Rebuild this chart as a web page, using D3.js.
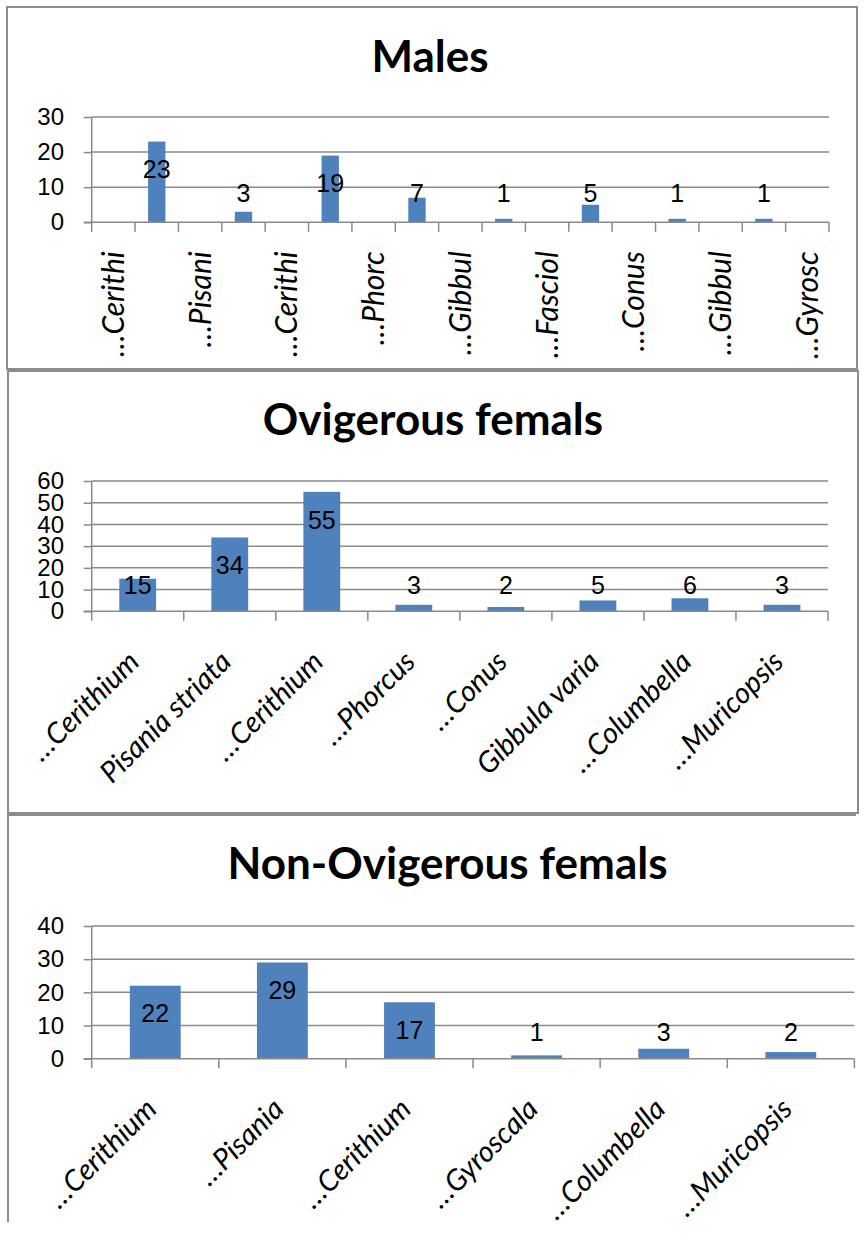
<!DOCTYPE html>
<html>
<head>
<meta charset="utf-8">
<script src="https://cdn.jsdelivr.net/npm/d3@7"></script>
<style>
  body { margin: 0; background: #fff; }
  svg { display: block; }
</style>
</head>
<body>
<svg id="chart" width="865" height="1237"></svg>
<script>
// ---- Males: 17 categories, only every second name is printed on the axis
const maleTickLabels = ["…Cerithi", "", "…Pisani", "", "…Cerithi", "", "…Phorc", "", "…Gibbul",
                        "", "…Fasciol", "", "…Conus", "", "…Gibbul", "", "…Gyrosc"];
const maleValues = [null, 23, null, 3, null, 19, null, 7, null, 1, null, 5, null, 1, null, 1, null];
const maleTicks = [0, 10, 20, 30];

// ---- Ovigerous females
const ovigCategories = ["…Cerithium", "Pisania striata", "…Cerithium", "…Phorcus", "…Conus",
                        "Gibbula varia", "…Columbella", "…Muricopsis"];
const ovigValues = [15, 34, 55, 3, 2, 5, 6, 3];
const ovigTicks = [0, 10, 20, 30, 40, 50, 60];

// ---- Non-ovigerous females
const nonOvigCategories = ["…Cerithium", "…Pisania", "…Cerithium", "…Gyroscala", "…Columbella", "…Muricopsis"];
const nonOvigValues = [22, 29, 17, 1, 3, 2];
const nonOvigTicks = [0, 10, 20, 30, 40];

const BAR = "#4F81BD";
const GRID = "#8a8a8a";
const FRAME = "#8c8c8c";

const svg = d3.select("#chart");
svg.append("rect").attr("width", 865).attr("height", 1237).attr("fill", "#fff");

// panel frames
const frames = svg.append("g").attr("fill", "none").attr("stroke", FRAME).attr("stroke-width", 2);
frames.append("rect").attr("x", 7).attr("y", 7).attr("width", 850).attr("height", 362);
frames.append("rect").attr("x", 8).attr("y", 371).attr("width", 850).attr("height", 442);
frames.append("path").attr("d", "M8,1222V815H856");

const panels = [
  { title: "Males", labels: maleTickLabels, values: maleValues, ticks: maleTicks,
    titleX: 430, titleY: 71.7, left: 91.7, right: 829, top: 117, zero: 222.3,
    rotate: -90, lift: 29 },
  { title: "Ovigerous femals", labels: ovigCategories, values: ovigValues, ticks: ovigTicks,
    titleX: 433, titleY: 435, left: 91.7, right: 828, top: 481, zero: 611.3,
    rotate: -45, lift: 26 },
  { title: "Non-Ovigerous femals", labels: nonOvigCategories, values: nonOvigValues, ticks: nonOvigTicks,
    titleX: 447.5, titleY: 879.3, left: 91.7, right: 854.4, top: 926, zero: 1058.7,
    rotate: -45, lift: 26 }
];

panels.forEach(drawPanel);

function drawPanel(p) {
  const g = svg.append("g");
  const n = p.values.length;

  const y = d3.scaleLinear()
    .domain(d3.extent(p.ticks))
    .range([p.zero, p.top]);

  const x = d3.scaleBand()
    .domain(d3.range(n))
    .range([p.left, p.right])
    .paddingInner(0.6)
    .paddingOuter(0.3);
  const step = x.step();
  const center = i => x(i) + x.bandwidth() / 2;
  const boundary = i => p.left + i * step;

  // title
  g.append("text")
    .attr("x", p.titleX).attr("y", p.titleY)
    .attr("text-anchor", "middle")
    .attr("font-family", "Lato, 'Open Sans', sans-serif")
    .attr("font-weight", "bold")
    .attr("font-size", 44)
    .attr("fill", "#000")
    .text(p.title);

  // horizontal gridlines
  g.append("g")
    .selectAll("line")
    .data(p.ticks.filter(t => t > 0))
    .join("line")
    .attr("x1", p.left).attr("x2", p.right)
    .attr("y1", d => y(d)).attr("y2", d => y(d))
    .attr("stroke", GRID).attr("stroke-width", 1.5);

  // value axis
  const yAxis = g.append("g")
    .attr("transform", `translate(${p.left},0)`)
    .call(d3.axisLeft(y).tickValues(p.ticks).tickSize(8).tickSizeOuter(0).tickPadding(19.7));
  yAxis.select(".domain").remove();
  yAxis.selectAll(".tick line").attr("stroke", GRID).attr("stroke-width", 1.5);
  yAxis.selectAll(".tick text")
    .attr("font-family", "'Liberation Sans', Arial, sans-serif")
    .attr("font-size", 24)
    .attr("fill", "#000");
  g.append("line")
    .attr("x1", p.left).attr("x2", p.left)
    .attr("y1", p.top).attr("y2", p.zero)
    .attr("stroke", GRID).attr("stroke-width", 1.5);

  // bars
  const data = p.values.map((v, i) => ({ i, v })).filter(d => d.v != null);
  g.append("g")
    .selectAll("rect")
    .data(data)
    .join("rect")
    .attr("x", d => x(d.i))
    .attr("width", x.bandwidth())
    .attr("y", d => y(d.v))
    .attr("height", d => p.zero - y(d.v))
    .attr("fill", BAR);

  // category axis line and tick marks between categories
  g.append("line")
    .attr("x1", p.left - 8).attr("x2", p.right)
    .attr("y1", p.zero).attr("y2", p.zero)
    .attr("stroke", GRID).attr("stroke-width", 1.5);
  g.append("g")
    .selectAll("line")
    .data(d3.range(n + 1))
    .join("line")
    .attr("x1", boundary).attr("x2", boundary)
    .attr("y1", p.zero).attr("y2", p.zero + 9.5)
    .attr("stroke", GRID).attr("stroke-width", 1.5);

  // data labels
  g.append("g")
    .selectAll("text")
    .data(data)
    .join("text")
    .attr("x", d => center(d.i))
    .attr("y", d => Math.min(y(d.v) + 28, p.zero - p.lift))
    .attr("dy", "0.35em")
    .attr("text-anchor", "middle")
    .attr("font-family", "'Liberation Sans', Arial, sans-serif")
    .attr("font-size", 25)
    .attr("fill", "#000")
    .text(d => d.v);

  // category labels
  const labels = g.append("g")
    .selectAll("text")
    .data(p.labels.map((t, i) => ({ t, i })).filter(d => d.t))
    .join("text")
    .attr("text-anchor", "end")
    .attr("dy", "0.35em")
    .attr("font-family", "Lato, 'Open Sans', sans-serif")
    .attr("font-style", "italic")
    .attr("fill", "#000")
    .text(d => d.t);
  if (p.rotate === -90) {
    labels.attr("font-size", 30)
      .attr("transform", d => `translate(${center(d.i)},${p.zero + 29}) rotate(-90)`);
  } else {
    labels.attr("font-size", 29)
      .attr("transform", d => `translate(${center(d.i) - 4},${p.zero + 45}) rotate(-45)`);
  }
}
</script>
</body>
</html>
